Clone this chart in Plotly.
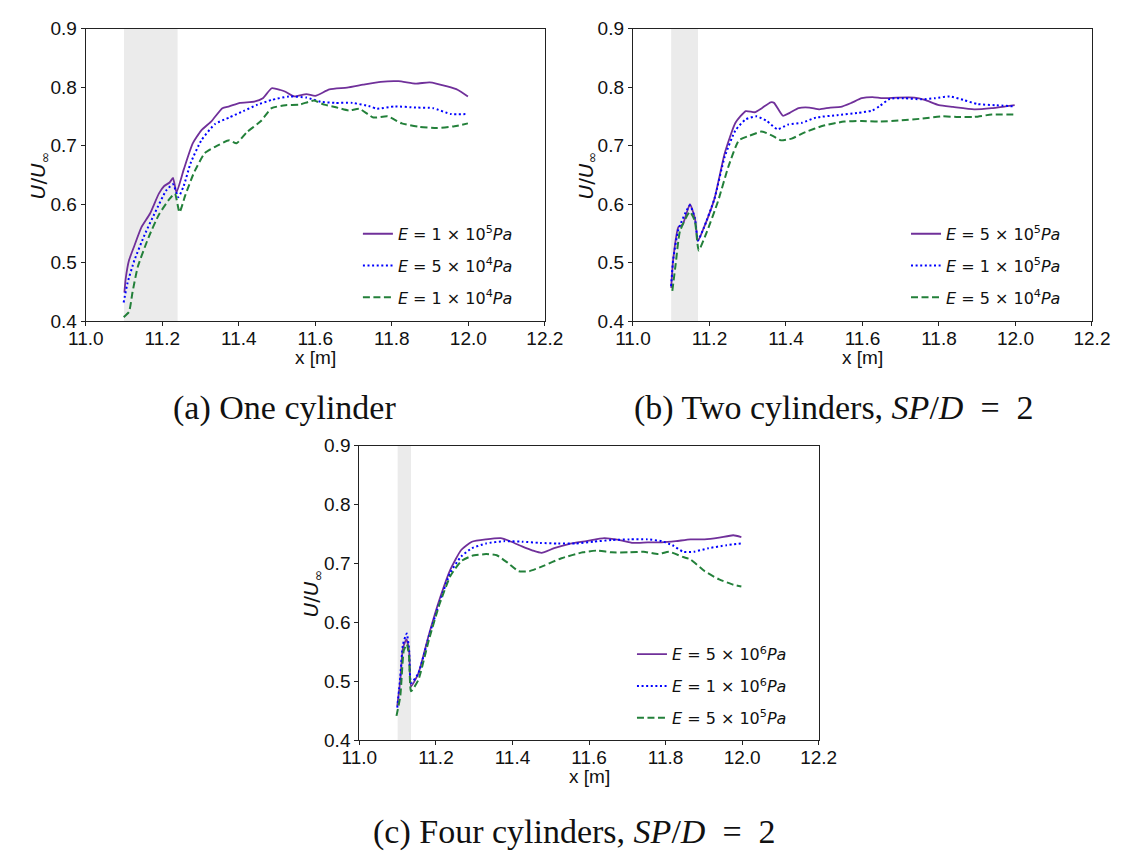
import plotly.graph_objects as go

# panel (a): one cylinder
A_SOLID_X = [11.101, 11.104, 11.113, 11.127, 11.145, 11.168, 11.191, 11.205, 11.219, 11.228,
             11.237, 11.256, 11.279, 11.302, 11.329, 11.357, 11.375, 11.403, 11.440, 11.463,
             11.486, 11.509, 11.522, 11.545, 11.577, 11.600, 11.637, 11.683, 11.725, 11.771,
             11.817, 11.863, 11.899, 11.945, 11.973, 11.999]
A_SOLID_U = [0.449, 0.471, 0.504, 0.529, 0.560, 0.584, 0.618, 0.631, 0.637, 0.645,
             0.620, 0.659, 0.703, 0.726, 0.742, 0.764, 0.767, 0.773, 0.775, 0.781,
             0.798, 0.795, 0.792, 0.784, 0.788, 0.785, 0.796, 0.799, 0.804, 0.809,
             0.810, 0.806, 0.808, 0.801, 0.795, 0.784]
A_DOT_X = [11.099, 11.109, 11.127, 11.154, 11.182, 11.210, 11.228, 11.242, 11.256, 11.274,
           11.302, 11.338, 11.375, 11.412, 11.449, 11.486, 11.531, 11.577, 11.614, 11.651,
           11.697, 11.743, 11.761, 11.807, 11.863, 11.908, 11.954, 11.999]
A_DOT_U = [0.432, 0.465, 0.504, 0.548, 0.587, 0.623, 0.634, 0.612, 0.631, 0.670,
           0.709, 0.737, 0.748, 0.759, 0.770, 0.778, 0.784, 0.782, 0.775, 0.773,
           0.773, 0.767, 0.763, 0.767, 0.765, 0.764, 0.754, 0.754]
A_DASH_X = [11.099, 11.113, 11.122, 11.136, 11.164, 11.191, 11.219, 11.233, 11.245, 11.260,
            11.283, 11.311, 11.338, 11.375, 11.394, 11.421, 11.458, 11.486, 11.522, 11.559,
            11.596, 11.623, 11.651, 11.688, 11.715, 11.752, 11.789, 11.826, 11.872, 11.918,
            11.964, 11.999]
A_DASH_U = [0.407, 0.416, 0.449, 0.493, 0.543, 0.582, 0.609, 0.618, 0.586, 0.615,
            0.654, 0.687, 0.698, 0.709, 0.704, 0.723, 0.742, 0.764, 0.769, 0.770,
            0.777, 0.770, 0.766, 0.760, 0.763, 0.748, 0.750, 0.738, 0.732, 0.730,
            0.733, 0.738]
A_LABELS = ["1", "5", "1"]
A_EXPS = ["5", "4", "4"]

# panel (b): two cylinders
B_SOLID_X = [11.100, 11.105, 11.119, 11.130, 11.149, 11.162, 11.170, 11.185, 11.213, 11.240,
             11.268, 11.295, 11.318, 11.337, 11.360, 11.369, 11.392, 11.410, 11.433, 11.461,
             11.488, 11.516, 11.543, 11.571, 11.598, 11.626, 11.653, 11.690, 11.736, 11.763,
             11.800, 11.837, 11.892, 11.938, 11.974, 11.998]
B_SOLID_U = [0.457, 0.504, 0.561, 0.565, 0.600, 0.576, 0.537, 0.559, 0.609, 0.687,
             0.739, 0.759, 0.757, 0.764, 0.774, 0.773, 0.751, 0.756, 0.764, 0.765,
             0.762, 0.765, 0.766, 0.773, 0.781, 0.783, 0.781, 0.782, 0.782, 0.778,
             0.769, 0.766, 0.762, 0.764, 0.767, 0.769]
B_DOT_X = [11.100, 11.105, 11.119, 11.149, 11.162, 11.170, 11.185, 11.213, 11.240, 11.268,
           11.295, 11.323, 11.350, 11.378, 11.406, 11.442, 11.479, 11.534, 11.589, 11.626,
           11.644, 11.672, 11.708, 11.754, 11.791, 11.828, 11.864, 11.901, 11.947, 11.998]
B_DOT_U = [0.460, 0.504, 0.557, 0.598, 0.576, 0.538, 0.559, 0.609, 0.681, 0.726,
           0.745, 0.750, 0.742, 0.728, 0.736, 0.739, 0.748, 0.752, 0.756, 0.760,
           0.767, 0.780, 0.781, 0.779, 0.781, 0.784, 0.778, 0.771, 0.769, 0.767]
B_DASH_X = [11.103, 11.112, 11.123, 11.149, 11.162, 11.172, 11.194, 11.222, 11.250, 11.277,
            11.305, 11.337, 11.364, 11.387, 11.415, 11.451, 11.497, 11.552, 11.598, 11.644,
            11.699, 11.754, 11.809, 11.846, 11.892, 11.938, 11.998]
B_DASH_U = [0.452, 0.499, 0.554, 0.587, 0.571, 0.521, 0.554, 0.604, 0.665, 0.709,
            0.717, 0.724, 0.717, 0.709, 0.712, 0.723, 0.734, 0.741, 0.742, 0.741,
            0.743, 0.746, 0.750, 0.749, 0.749, 0.753, 0.753]
B_LABELS = ["5", "1", "5"]
B_EXPS = ["5", "5", "4"]

# panel (c): four cylinders
C_SOLID_X = [11.099, 11.107, 11.114, 11.123, 11.130, 11.135, 11.154, 11.182, 11.210, 11.238,
             11.266, 11.294, 11.331, 11.369, 11.397, 11.425, 11.453, 11.476, 11.509, 11.547,
             11.593, 11.640, 11.678, 11.715, 11.753, 11.790, 11.827, 11.865, 11.902, 11.940,
             11.977, 11.998]
C_SOLID_U = [0.458, 0.502, 0.557, 0.571, 0.552, 0.491, 0.513, 0.580, 0.640, 0.690,
             0.723, 0.737, 0.741, 0.743, 0.737, 0.729, 0.722, 0.718, 0.726, 0.733,
             0.738, 0.743, 0.740, 0.735, 0.736, 0.736, 0.738, 0.741, 0.741, 0.744,
             0.748, 0.745]
C_DOT_X = [11.099, 11.107, 11.114, 11.124, 11.130, 11.135, 11.154, 11.182, 11.210, 11.238,
           11.266, 11.294, 11.331, 11.378, 11.425, 11.472, 11.519, 11.565, 11.612, 11.659,
           11.706, 11.753, 11.790, 11.818, 11.846, 11.874, 11.912, 11.959, 11.998]
C_DOT_U = [0.455, 0.508, 0.563, 0.581, 0.552, 0.497, 0.513, 0.577, 0.635, 0.685,
           0.712, 0.726, 0.734, 0.738, 0.737, 0.735, 0.734, 0.734, 0.737, 0.740,
           0.741, 0.741, 0.738, 0.731, 0.720, 0.720, 0.726, 0.731, 0.734]
C_DASH_X = [11.097, 11.107, 11.116, 11.124, 11.130, 11.135, 11.154, 11.182, 11.210, 11.238,
            11.266, 11.294, 11.331, 11.359, 11.388, 11.416, 11.444, 11.481, 11.528, 11.584,
            11.622, 11.659, 11.706, 11.743, 11.781, 11.809, 11.846, 11.865, 11.902, 11.940,
            11.977, 11.998]
C_DASH_U = [0.441, 0.475, 0.552, 0.563, 0.541, 0.483, 0.502, 0.571, 0.632, 0.679,
            0.704, 0.713, 0.716, 0.714, 0.701, 0.687, 0.687, 0.696, 0.709, 0.719,
            0.722, 0.719, 0.719, 0.720, 0.716, 0.720, 0.711, 0.707, 0.687, 0.673,
            0.664, 0.661]
C_LABELS = ["5", "1", "5"]
C_EXPS = ["6", "6", "5"]

# cylinder (grey band) extents per panel
SHADE_START = [11.10, 11.10, 11.10]
SHADE_END = [11.24, 11.17, 11.135]

X_TICKS = [11.0, 11.2, 11.4, 11.6, 11.8, 12.0, 12.2]
Y_TICKS = [0.4, 0.5, 0.6, 0.7, 0.8, 0.9]

CAPTIONS = [
    "(a) One cylinder",
    "(b) Two cylinders, <i>SP</i>/<i>D</i>&#160; = &#160;2",
    "(c) Four cylinders, <i>SP</i>/<i>D</i>&#160; = &#160;2",
]

W, H = 1139, 861
# plot boxes in pixels: left, right, top, bottom
BOXES = [(70, 544, 19, 319), (635, 1109, 19, 319), (352.5, 826.8, 446.7, 748.3)]

STYLES = [
    dict(color="#70309a", width=1.8, dash="solid", shape="spline", smoothing=0.5),
    dict(color="#0000ff", width=2.0, dash="2px,2.6px", shape="spline", smoothing=0.5),
    dict(color="#23803a", width=2.0, dash="7px,3.5px", shape="spline", smoothing=0.5),
]

panels = [
    ([A_SOLID_X, A_DOT_X, A_DASH_X], [A_SOLID_U, A_DOT_U, A_DASH_U], A_LABELS, A_EXPS),
    ([B_SOLID_X, B_DOT_X, B_DASH_X], [B_SOLID_U, B_DOT_U, B_DASH_U], B_LABELS, B_EXPS),
    ([C_SOLID_X, C_DOT_X, C_DASH_X], [C_SOLID_U, C_DOT_U, C_DASH_U], C_LABELS, C_EXPS),
]

fig = go.Figure()
layout = {}
annotations = []
shapes = []

legend_pos = [(351, 212), (917, 212), (634, 643)]
ylabel_x = [22, 587, 304]

for i, (xs, us, labels, exps) in enumerate(panels):
    sfx = "" if i == 0 else str(i + 1)
    left, right, top, bottom = BOXES[i]
    xdom = [left / W, right / W]
    ydom = [1 - bottom / H, 1 - top / H]
    legname = "legend" + sfx

    for j in range(3):
        name = f"<i>E</i> = {labels[j]} × 10<sup>{exps[j]}</sup><i>Pa</i>"
        fig.add_trace(go.Scatter(
            x=xs[j], y=us[j], mode="lines", name=name,
            line=STYLES[j], xaxis="x" + sfx, yaxis="y" + sfx,
            legend=legname, legendgroup=f"g{i}{j}",
        ))

    axis_common = dict(
        showline=True, linecolor="#222", linewidth=1.2, mirror=True,
        ticks="outside", ticklen=4, tickcolor="#222", tickwidth=1,
        showgrid=False, zeroline=False,
        tickfont=dict(family="Liberation Sans", size=19, color="#111"),
    )
    layout["xaxis" + sfx] = dict(
        axis_common, domain=xdom, range=[11.0, 12.2], tickvals=X_TICKS,
        ticktext=[f"{v:.1f}" for v in X_TICKS], anchor="y" + sfx,
        ticklabelstandoff=-4,
    )
    layout["yaxis" + sfx] = dict(
        axis_common, domain=ydom, range=[0.4, 0.9], tickvals=Y_TICKS,
        ticktext=[f"{v:.1f}" for v in Y_TICKS], anchor="x" + sfx,
    )
    lx, ly = legend_pos[i]
    layout[legname] = dict(
        x=lx / W, y=1 - ly / H, xanchor="left", yanchor="top",
        bgcolor="rgba(0,0,0,0)", borderwidth=0, tracegroupgap=8,
        font=dict(family="DejaVu Sans", size=16, color="#111"),
    )

    shapes.append(dict(
        type="rect", xref="x" + sfx, yref="y" + sfx + " domain",
        x0=SHADE_START[i], x1=SHADE_END[i], y0=0, y1=1,
        fillcolor="#ebebeb", line=dict(width=0), layer="below",
    ))

    # y label
    annotations.append(dict(
        text="<i>U</i>/<i>U</i><sub>∞</sub>", textangle=-90,
        x=ylabel_x[i] / W, y=1 - (top + bottom) / 2 / H, xref="paper", yref="paper",
        xanchor="center", yanchor="middle",
        showarrow=False, font=dict(family="DejaVu Sans", size=20, color="#111"),
    ))
    # x label
    annotations.append(dict(
        text="x [m]", x=(left + right) / 2 / W, y=1 - (bottom + 37) / H,
        xref="paper", yref="paper", xanchor="center", yanchor="middle",
        showarrow=False, font=dict(family="Liberation Sans", size=19, color="#111"),
    ))

caption_pos = [(275, 408), (843, 408), (575, 843)]
for cap, (cx, cy) in zip(CAPTIONS, caption_pos):
    annotations.append(dict(
        text=cap, x=cx / W, y=1 - cy / H, xref="paper", yref="paper",
        xanchor="center", yanchor="middle",
        showarrow=False, font=dict(family="Liberation Serif", size=34, color="#111"),
    ))

fig.update_layout(
    layout,
    width=W, height=H,
    margin=dict(l=0, r=0, t=0, b=0),
    paper_bgcolor="white", plot_bgcolor="white",
    showlegend=True,
    annotations=annotations, shapes=shapes,
)

fig.write_html("out.html", config={"displayModeBar": False},
               post_script="document.body.style.margin='0';")
